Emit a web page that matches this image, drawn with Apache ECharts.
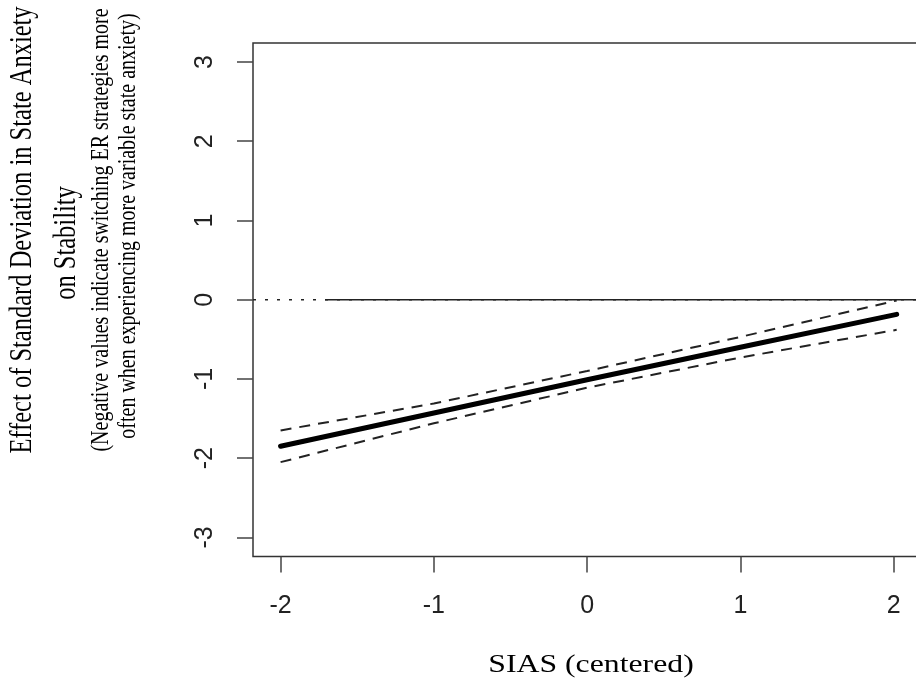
<!DOCTYPE html>
<html>
<head>
<meta charset="utf-8">
<script src="https://cdn.jsdelivr.net/npm/echarts@6/dist/echarts.min.js"></script>
<style>
  html, body { margin: 0; padding: 0; background: #ffffff; }
  #chart { width: 916px; height: 681px; }
</style>
</head>
<body>
<div id="chart"></div>
<script>
// ---- data ----
const sias = [-2, -1, 0, 1, 2.02];                       // SIAS (centered)
const effect = [-1.85, -1.43, -1.01, -0.60, -0.185];      // estimated simple slope
const upperCI = [-1.65, -1.31, -0.90, -0.47, -0.01];      // upper confidence band
const lowerCI = [-2.05, -1.56, -1.11, -0.73, -0.38];      // lower confidence band
const xTicks = [-2, -1, 0, 1, 2];
const yTicks = [-3, -2, -1, 0, 1, 2, 3];
const xRange = [-2.18, 2.18];
const yRange = [-3.24, 3.24];
const jnBoundary = -1.71;                                 // start of solid zero segment
const zeroLevel = 0;

const yTitle1 = 'Effect of Standard Deviation in State Anxiety';
const yTitle2 = 'on Stability';
const yNote1 = '(Negative values indicate switching ER strategies more';
const yNote2 = 'often when experiencing more variable state anxiety)';
const xTitle = 'SIAS (centered)';

const pair = (xs, ys) => xs.map((x, i) => [x, ys[i]]);

const chart = echarts.init(document.getElementById('chart'), null, { renderer: 'canvas' });

const serif = '"Liberation Serif", "Times New Roman", serif';
const sans = '"Liberation Sans", Arial, sans-serif';
const stretch = 1.27;

chart.setOption({
  animation: false,
  backgroundColor: '#ffffff',
  grid: {
    left: 253, top: 43, width: 668.2, height: 513.4,
    outerBoundsMode: 'none', containLabel: false,
    show: true, borderColor: '#333', borderWidth: 1.5, backgroundColor: 'transparent'
  },
  xAxis: {
    type: 'value', min: xRange[0], max: xRange[1],
    axisLine: { show: false, onZero: false },
    splitLine: { show: false },
    axisTick: { show: true, customValues: xTicks, length: 16, lineStyle: { color: '#444', width: 1.5 } },
    axisLabel: { customValues: xTicks, margin: 37, fontSize: 25, fontFamily: sans, color: '#222' }
  },
  yAxis: {
    type: 'value', min: yRange[0], max: yRange[1],
    axisLine: { show: false, onZero: false },
    splitLine: { show: false },
    axisTick: { show: true, customValues: yTicks, length: 16, lineStyle: { color: '#444', width: 1.5 } },
    axisLabel: { customValues: yTicks, rotate: 90, margin: 35, fontSize: 25, fontFamily: sans, color: '#222' }
  },
  series: [
    {
      type: 'line', data: [[xRange[0], zeroLevel], [xRange[1], zeroLevel]],
      symbol: 'none', lineStyle: { color: '#222', width: 1.5, type: [3, 9] }
    },
    {
      type: 'line', data: [[jnBoundary, zeroLevel], [xRange[1], zeroLevel]],
      symbol: 'none', lineStyle: { color: '#222', width: 1.5, type: 'solid' }
    },
    {
      type: 'line', data: pair(sias, upperCI),
      symbol: 'none', lineStyle: { color: '#222', width: 2, type: [11, 8] }
    },
    {
      type: 'line', data: pair(sias, lowerCI),
      symbol: 'none', lineStyle: { color: '#222', width: 2, type: [11, 8] }
    },
    {
      type: 'line', data: pair(sias, effect),
      symbol: 'none', lineStyle: { color: '#000', width: 5, cap: 'round' }
    }
  ],
  graphic: [
    { type: 'text', x: 23, y: 230, rotation: Math.PI / 2, scaleY: stretch,
      style: { text: yTitle1, font: '24.5px ' + serif, fill: '#000', align: 'center', verticalAlign: 'middle' } },
    { type: 'text', x: 67, y: 243, rotation: Math.PI / 2, scaleY: stretch,
      style: { text: yTitle2, font: '24.5px ' + serif, fill: '#000', align: 'center', verticalAlign: 'middle' } },
    { type: 'text', x: 101, y: 230, rotation: Math.PI / 2, scaleY: stretch,
      style: { text: yNote1, font: '20px ' + serif, fill: '#000', align: 'center', verticalAlign: 'middle' } },
    { type: 'text', x: 128, y: 226, rotation: Math.PI / 2, scaleY: stretch,
      style: { text: yNote2, font: '20px ' + serif, fill: '#000', align: 'center', verticalAlign: 'middle' } },
    { type: 'text', x: 591, y: 665, scaleX: stretch,
      style: { text: xTitle, font: '25px ' + serif, fill: '#000', align: 'center', verticalAlign: 'middle' } }
  ]
});
</script>
</body>
</html>
